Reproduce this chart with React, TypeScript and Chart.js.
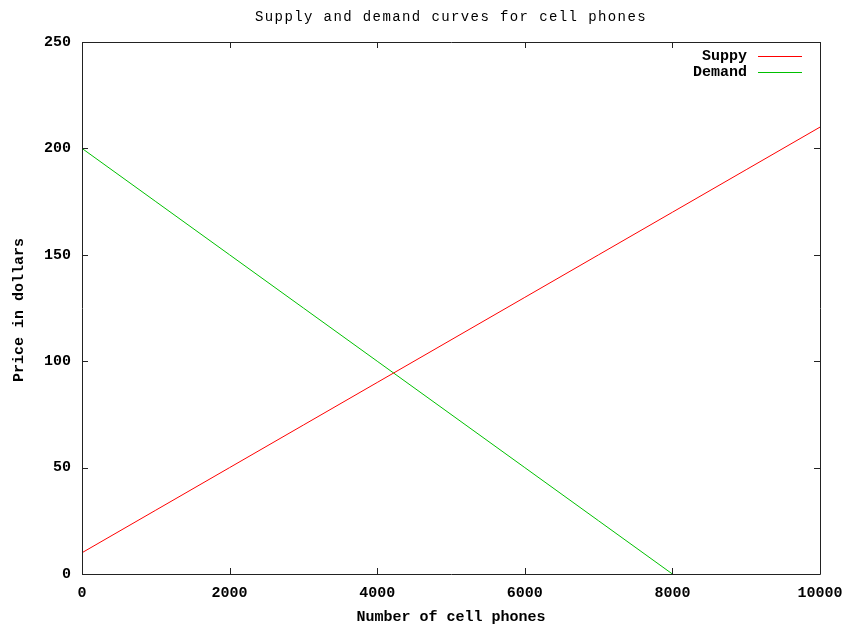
import React, { useEffect, useRef } from "react";
import { Chart, registerables } from "chart.js";

Chart.register(...registerables);

// Quantity (number of phones) and price readings for each curve
const supplyQty = [0, 1000, 2000, 3000, 4000, 5000, 6000, 7000, 8000, 9000, 10000];
const supplyPrice = [10, 30, 50, 70, 90, 110, 130, 150, 170, 190, 210];
const demandQty = [0, 1000, 2000, 3000, 4000, 5000, 6000, 7000, 8000];
const demandPrice = [200, 175, 150, 125, 100, 75, 50, 25, 0];

const xTickValues = [0, 2000, 4000, 6000, 8000, 10000];
const yTickValues = [0, 50, 100, 150, 200, 250];

const seriesNames = ["Suppy", "Demand"];
const seriesColors = ["#ff0000", "#00c000"];

const titleText = "Supply and demand curves for cell phones";
const xTitle = "Number of cell phones";
const yTitle = "Price in dollars";

const MONO = "'Liberation Mono', 'DejaVu Sans Mono', monospace";

const gnuplotDecor = {
  id: "gnuplotDecor",
  afterDatasetsDraw(chart: any) {
    const { ctx, chartArea: a, scales } = chart;
    const tick = 6;
    ctx.save();
    ctx.strokeStyle = "#222";
    ctx.lineWidth = 1;
    ctx.beginPath();
    ctx.rect(Math.round(a.left) + 0.5, Math.round(a.top) + 0.5, Math.round(a.right - a.left), Math.round(a.bottom - a.top));
    ctx.stroke();
    ctx.beginPath();
    for (const v of xTickValues) {
      const x = Math.round(scales.x.getPixelForValue(v)) + 0.5;
      ctx.moveTo(x, a.bottom);
      ctx.lineTo(x, a.bottom - tick);
      ctx.moveTo(x, a.top);
      ctx.lineTo(x, a.top + tick);
    }
    for (const v of yTickValues) {
      const y = Math.round(scales.y.getPixelForValue(v)) + 0.5;
      ctx.moveTo(a.left, y);
      ctx.lineTo(a.left + tick, y);
      ctx.moveTo(a.right, y);
      ctx.lineTo(a.right - tick, y);
    }
    ctx.stroke();

    // legend
    ctx.font = `bold 15px ${MONO}`;
    ctx.textAlign = "right";
    ctx.textBaseline = "middle";
    seriesNames.forEach((name, i) => {
      const y = 56 + i * 16;
      ctx.fillStyle = "#000";
      ctx.fillText(name, 747, y);
      ctx.strokeStyle = seriesColors[i];
      ctx.beginPath();
      ctx.moveTo(758, y + 0.5);
      ctx.lineTo(802, y + 0.5);
      ctx.stroke();
    });

    // titles
    ctx.fillStyle = "#000";
    ctx.textAlign = "center";
    ctx.font = `14px ${MONO}`;
    (ctx as any).letterSpacing = "1.4px";
    ctx.fillText(titleText, 451, 17);
    (ctx as any).letterSpacing = "0px";
    ctx.font = `bold 15px ${MONO}`;
    ctx.fillText(xTitle, 451, 617);
    ctx.translate(19, 310);
    ctx.rotate(-Math.PI / 2);
    ctx.fillText(yTitle, 0, 0);
    ctx.restore();
  },
};

export default function App() {
  const ref = useRef<HTMLCanvasElement | null>(null);

  useEffect(() => {
    const canvas = ref.current;
    if (!canvas) return;
    const tickFont = { family: MONO, size: 15, weight: "bold" as const };
    const chart = new Chart(canvas, {
      type: "scatter",
      data: {
        datasets: [
          {
            label: seriesNames[0],
            data: supplyQty.map((q, i) => ({ x: q, y: supplyPrice[i] })),
            borderColor: seriesColors[0],
            borderWidth: 1,
            showLine: true,
            pointRadius: 0,
          },
          {
            label: seriesNames[1],
            data: demandQty.map((q, i) => ({ x: q, y: demandPrice[i] })),
            borderColor: seriesColors[1],
            borderWidth: 1,
            showLine: true,
            pointRadius: 0,
          },
        ],
      },
      options: {
        responsive: false,
        animation: false,
        devicePixelRatio: 1,
        layout: { padding: { top: 42, right: 26, left: 0, bottom: 0 } },
        plugins: { legend: { display: false }, title: { display: false }, tooltip: { enabled: false } },
        scales: {
          x: {
            type: "linear",
            min: 0,
            max: 10000,
            afterBuildTicks: (s: any) => {
              s.ticks = xTickValues.map((v) => ({ value: v }));
            },
            afterFit: (s: any) => {
              s.height = 52;
              s.paddingLeft = 0;
              s.paddingRight = 0;
            },
            grid: { display: false, drawTicks: false },
            border: { display: false },
            ticks: {
              font: tickFont,
              color: "#000",
              padding: 10,
              maxRotation: 0,
              autoSkip: false,
              callback: (v: any) => String(v),
            },
          },
          y: {
            type: "linear",
            min: 0,
            max: 250,
            afterBuildTicks: (s: any) => {
              s.ticks = yTickValues.map((v) => ({ value: v }));
            },
            afterFit: (s: any) => {
              s.width = 82;
              s.paddingTop = 0;
              s.paddingBottom = 0;
            },
            grid: { display: false, drawTicks: false },
            border: { display: false },
            ticks: { font: tickFont, color: "#000", padding: 11, callback: (v: any) => String(v) },
          },
        },
      },
      plugins: [gnuplotDecor],
    });
    return () => chart.destroy();
  }, []);

  return (
    <div style={{ position: "fixed", left: 0, top: 0, width: 846, height: 626, background: "#fff" }}>
      <canvas ref={ref} width={846} height={626} style={{ display: "block" }} />
    </div>
  );
}
